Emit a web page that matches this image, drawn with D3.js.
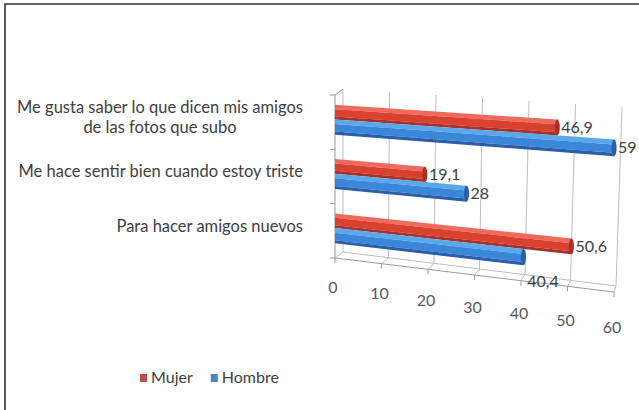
<!DOCTYPE html>
<html>
<head>
<meta charset="utf-8">
<script src="https://cdn.jsdelivr.net/npm/d3@7"></script>
<style>
  body { margin: 0; background: #fff; }
  svg { font-family: Lato, "Open Sans", sans-serif; }
</style>
</head>
<body>
<svg id="chart" width="639" height="410"></svg>
<script>
// data
const categories = [
  ["Me gusta saber lo que dicen mis amigos", "de las fotos que subo"],
  ["Me hace sentir bien cuando estoy triste"],
  ["Para hacer amigos nuevos"]
];
const mujer = [46.9, 19.1, 50.6];
const hombre = [59, 28, 40.4];
const ticks = [0, 10, 20, 30, 40, 50, 60];
const seriesNames = ["Mujer", "Hombre"];

const svg = d3.select("#chart");

// frame (only left and top edges show in the picture)
svg.append("path")
  .attr("d", "M5,410 L5,4 L639,4")
  .attr("fill", "none")
  .attr("stroke", "#333")
  .attr("stroke-width", 1.6);

// perspective-ish plane: corners of the bar plane
const TL = [335, 95], TR = [620, 113], BL = [335, 258], BR = [614, 292];

const x = d3.scaleLinear().domain([0, 60]).range([0, 1]);
const y = d3.scaleBand().domain(d3.range(categories.length)).range([0, 1]);

function lerp(a, b, t) { return [a[0] + (b[0] - a[0]) * t, a[1] + (b[1] - a[1]) * t]; }
function P(v, s) {
  const t = x(v);
  return lerp(lerp(TL, TR, t), lerp(BL, BR, t), s);
}
// depth toward the back wall shrinks to the right
function back(v, s) {
  const p = P(v, s), t = x(v);
  return [p[0] + 8 - 6 * t, p[1] - 6];
}
function line(g, a, b) {
  return g.append("line").attr("x1", a[0]).attr("y1", a[1]).attr("x2", b[0]).attr("y2", b[1]);
}

const grid = svg.append("g").attr("stroke", "#bdbdbd").attr("stroke-width", 1).attr("fill", "none");

// back wall gridlines
ticks.forEach(v => line(grid, back(v, 0), back(v, 1)));

// floor: back edge, front edge, diagonals and ticks
line(grid, back(0, 1), back(60, 1));
line(grid, P(0, 1), P(60, 1)).attr("stroke", "#999");
ticks.forEach(v => {
  const a = P(v, 1);
  line(grid, a, back(v, 1));
  line(grid, a, [a[0], a[1] + 5]).attr("stroke", "#999");
});

// left axis with ticks at category boundaries
line(grid, P(0, 0), P(0, 1)).attr("stroke", "#999");
line(grid, P(0, 0), back(0, 0)).attr("stroke", "#999");
d3.range(categories.length + 1).forEach(i => {
  const p = P(0, i / categories.length);
  line(grid, [p[0] - 5, p[1]], p).attr("stroke", "#999");
});

// bars
const palettes = [
  { light: "#ee6a5c", mid: "#d9402f", dark: "#a8302a", legend: "#c0504d" },
  { light: "#5aa8ec", mid: "#3a86d8", dark: "#2a5ea8", legend: "#4f81bd" }
];
const slots = [[0.18, 0.45], [0.45, 0.73]];
const values = [mujer, hombre];
const fmt = v => d3.format("~r")(v).replace(".", ",");

function quad(v0, v1, s0, s1) {
  const pts = [P(v0, s0), P(v1, s0), P(v1, s1), P(v0, s1)];
  return "M" + pts.map(p => p.join(",")).join("L") + "Z";
}

const bars = svg.append("g");
const labels = svg.append("g").attr("font-size", 16).attr("fill", "#404040");
categories.forEach((c, i) => {
  const b0 = y(i), bw = y.bandwidth();
  values.forEach((vals, k) => {
    const v = vals[i], pal = palettes[k];
    const s0 = b0 + bw * slots[k][0], s1 = b0 + bw * slots[k][1], h = s1 - s0;
    bars.append("path").attr("d", quad(0, v, s0, s0 + h * 0.3)).attr("fill", pal.light);
    bars.append("path").attr("d", quad(0, v, s0 + h * 0.3, s0 + h * 0.8)).attr("fill", pal.mid);
    bars.append("path").attr("d", quad(0, v, s0 + h * 0.8, s1)).attr("fill", pal.dark);
    // rounded end cap
    const e0 = P(v, s0), e1 = P(v, s1);
    bars.append("ellipse")
      .attr("cx", (e0[0] + e1[0]) / 2).attr("cy", (e0[1] + e1[1]) / 2)
      .attr("rx", 2.5).attr("ry", (e1[1] - e0[1]) / 2).attr("fill", pal.dark);
    // value label; a lower bar shorter than the one above gets its label pushed under it
    const pushed = k > 0 && v < values[k - 1][i];
    const m = pushed ? P(v, s1) : P(v, (s0 + s1) / 2);
    labels.append("text")
      .attr("x", m[0] + 4).attr("y", m[1] + (pushed ? 16 : 0))
      .attr("dy", "0.35em")
      .text(fmt(v));
  });
});

// value axis labels under the floor
ticks.forEach(v => {
  const p = P(v, 1);
  svg.append("text")
    .attr("x", p[0] - 2).attr("y", p[1] + 29 + 6 * x(v))
    .attr("dy", "0.35em").attr("text-anchor", "middle")
    .attr("font-size", 16).attr("fill", "#595959")
    .text(v);
});

// category labels, right aligned as a block, lines centred
const catSize = 16.5;
categories.forEach((lines, i) => {
  const c = P(0, y(i) + y.bandwidth() / 2);
  const t = svg.append("text").attr("font-size", catSize).attr("fill", "#404040").attr("text-anchor", "middle");
  const widths = lines.map(l => {
    const n = svg.append("text").attr("font-size", catSize).text(l);
    const w = n.node().getComputedTextLength();
    n.remove();
    return w;
  });
  const cx = 303 - d3.max(widths) / 2;
  const y0 = c[1] - 5 - (lines.length - 1) * 10;
  lines.forEach((l, j) => {
    t.append("tspan").attr("x", cx).attr("y", y0 + j * 20).attr("dy", "0.35em").text(l);
  });
});

// legend
const legend = svg.append("g").attr("transform", "translate(140,378)");
let lx = 0;
seriesNames.forEach((name, k) => {
  legend.append("rect").attr("x", lx).attr("y", -4).attr("width", 7).attr("height", 8)
    .attr("fill", palettes[k].legend);
  const t = legend.append("text").attr("x", lx + 11).attr("y", 0).attr("dy", "0.33em")
    .attr("font-size", 16).attr("fill", "#404040").text(name);
  lx += 11 + t.node().getComputedTextLength() + 18;
});
</script>
</body>
</html>
